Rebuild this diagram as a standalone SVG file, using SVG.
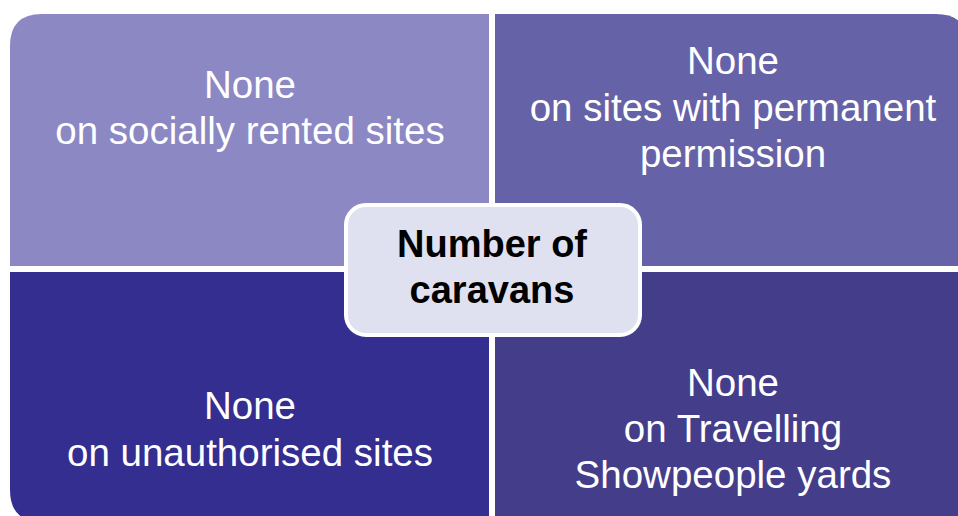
<svg xmlns="http://www.w3.org/2000/svg" width="958" height="516" viewBox="0 0 958 516">
<style>
.q text{font-family:"Liberation Sans",Arial,sans-serif;font-size:38.5px;fill:#ffffff;text-anchor:middle}
.c text{font-family:"Liberation Sans",Arial,sans-serif;font-size:38px;font-weight:bold;fill:#000000;text-anchor:middle}
</style>
<rect width="958" height="516" fill="#ffffff"/>
<g id="q-tl" class="q">
<path d="M10 46 Q10 14 42 14 L489 14 L489 266 L10 266 Z" fill="#8B88C4"/>
<text x="250" y="98">None</text>
<text x="250" y="144">on socially rented sites</text>
</g>
<g id="q-tr" class="q">
<path d="M495 14 L936 14 Q968 14 968 46 L968 266 L495 266 Z" fill="#6662A8"/>
<text x="733" y="74">None</text>
<text x="733" y="121">on sites with permanent</text>
<text x="733" y="167">permission</text>
</g>
<g id="q-bl" class="q">
<path d="M10 272 L489 272 L489 522 L42 522 Q10 522 10 490 Z" fill="#332E8F"/>
<text x="250" y="419">None</text>
<text x="250" y="466">on unauthorised sites</text>
</g>
<g id="q-br" class="q">
<path d="M495 272 L968 272 L968 522 L495 522 Z" fill="#443D8A"/>
<text x="733" y="396">None</text>
<text x="733" y="442">on Travelling</text>
<text x="733" y="488">Showpeople yards</text>
</g>
<g id="center" class="c">
<rect x="346" y="205" width="294" height="130" rx="20" ry="20" fill="#E0E1F0" stroke="#ffffff" stroke-width="4"/>
<text x="492" y="257">Number of</text>
<text x="492" y="303">caravans</text>
</g>
<g id="connectors"/>
</svg>
